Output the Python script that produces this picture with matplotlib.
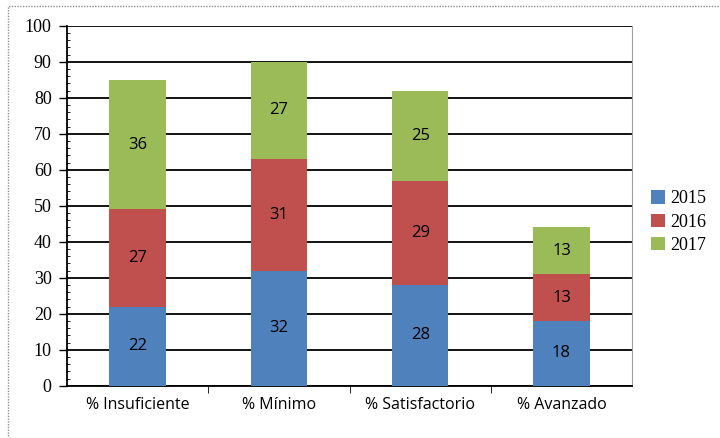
import numpy as np
import matplotlib.pyplot as plt
from matplotlib.patches import Rectangle
from matplotlib.ticker import MultipleLocator

# Datos
categorias = ['% Insuficiente', '% Mínimo', '% Satisfactorio', '% Avanzado']
v2015 = [22, 32, 28, 18]
v2016 = [27, 31, 29, 13]
v2017 = [36, 27, 25, 13]
series = ['2015', '2016', '2017']
colores = ['#4F81BD', '#C0504D', '#9BBB59']

fig = plt.figure(figsize=(7.2, 4.38), dpi=100)
ax = fig.add_axes([0.093, 0.119, 0.785, 0.822])

# Marco exterior
fig.patches.append(Rectangle((0.011, -0.01), 1.2, 0.997, transform=fig.transFigure,
                             fill=False, edgecolor='#909090', linewidth=1.0,
                             linestyle=(0, (1, 1))))

x = np.arange(len(categorias))
bottom = np.zeros(len(categorias))
for nombre, vals, c in zip(series, [v2015, v2016, v2017], colores):
    bars = ax.bar(x, vals, width=0.4, bottom=bottom, color=c, label=nombre, zorder=3)
    for b, v in zip(bars, vals):
        ax.text(b.get_x() + b.get_width() / 2, b.get_y() + v / 2, str(v),
                ha='center', va='center', fontsize=12, family='Open Sans', zorder=4)
    bottom += np.array(vals)

ax.set_xlim(-0.5, len(categorias) - 0.5)
ax.set_ylim(0, 100)
ax.yaxis.set_major_locator(MultipleLocator(10))
ax.yaxis.set_minor_locator(MultipleLocator(2))
ax.grid(axis='y', color='black', linewidth=1.3, zorder=0)

ax.set_xticks(x)
ax.set_xticklabels(categorias, fontsize=11.5, family='Open Sans')
ax.set_xticks(np.arange(0.5, len(categorias) - 0.5), minor=True)
ax.tick_params(axis='x', which='major', length=0, pad=8)
ax.tick_params(axis='x', which='minor', length=5, direction='out')
ax.tick_params(axis='y', which='major', length=6, direction='out', width=1, pad=5)
ax.tick_params(axis='y', which='minor', length=2, direction='in')
for lbl in ax.get_yticklabels():
    lbl.set_family('Liberation Serif')
    lbl.set_fontsize(13)

ax.spines['top'].set_visible(False)
ax.spines['right'].set_color('#a0a0a0')
ax.spines['right'].set_linestyle((0, (1, 1)))
ax.spines['left'].set_linewidth(1.3)
ax.spines['bottom'].set_linewidth(1.3)

ax.legend(loc='center left', bbox_to_anchor=(1.005, 0.455), frameon=False,
          prop={'family': 'Liberation Serif', 'size': 13},
          handlelength=0.75, handleheight=0.75, handletextpad=0.3, labelspacing=0.35)

fig.savefig('out.png', dpi=100)
